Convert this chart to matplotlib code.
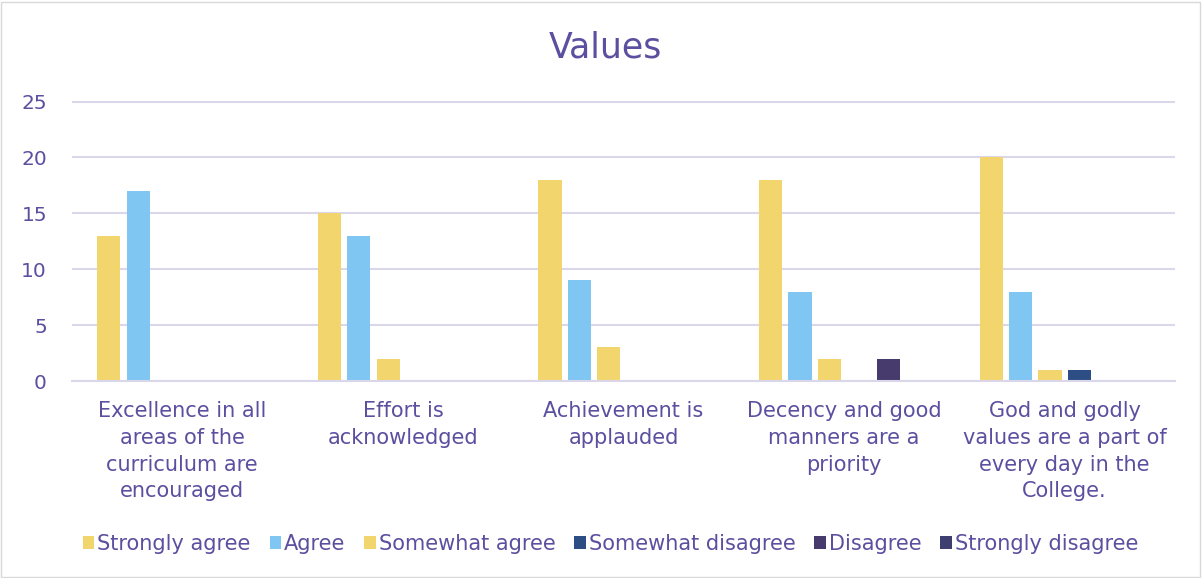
import numpy as np
import matplotlib.pyplot as plt
from matplotlib.patches import Rectangle

categories = [
    "Excellence in all\nareas of the\ncurriculum are\nencouraged",
    "Effort is\nacknowledged",
    "Achievement is\napplauded",
    "Decency and good\nmanners are a\npriority",
    "God and godly\nvalues are a part of\nevery day in the\nCollege.",
]
series_names = ["Strongly agree", "Agree", "Somewhat agree",
                "Somewhat disagree", "Disagree", "Strongly disagree"]
strongly_agree = [13, 15, 18, 18, 20]
agree = [17, 13, 9, 8, 8]
somewhat_agree = [0, 2, 3, 2, 1]
somewhat_disagree = [0, 0, 0, 0, 1]
disagree = [0, 0, 0, 2, 0]
strongly_disagree = [0, 0, 0, 0, 0]
yticks = [0, 5, 10, 15, 20, 25]

colors = ["#F2D56D", "#80C6F2", "#F2D56D", "#2D4D85", "#473A6C", "#3E3E70"]
text_color = "#5B4FA0"
grid_color = "#DAD7EA"

all_series = [strongly_agree, agree, somewhat_agree,
              somewhat_disagree, disagree, strongly_disagree]

fig = plt.figure(figsize=(12.02, 5.78), dpi=100)
ax = fig.add_axes([0.0599, 0.3408, 0.9176, 0.4845])

x = np.arange(len(categories))
slot = 0.8 / len(all_series)
for i, (name, vals) in enumerate(zip(series_names, all_series)):
    pos = x - 0.4 + slot * (i + 0.5)
    ax.bar(pos, vals, width=slot * 0.79, color=colors[i], label=name, zorder=3)

ax.set_xlim(-0.5, len(categories) - 0.5)
ax.set_ylim(0, 25.05)
ax.set_yticks(yticks)
ax.set_yticklabels([str(t) for t in yticks], fontsize=14.5, color=text_color)
ax.tick_params(axis="y", length=0, pad=18)
ax.set_xticks(x)
ax.set_xticklabels(categories, fontsize=15, color=text_color, linespacing=1.42, va="top")
ax.tick_params(axis="x", length=0, pad=14.5)
ax.grid(axis="y", color=grid_color, linewidth=1.5, zorder=0)
for s in ["top", "right", "left"]:
    ax.spines[s].set_visible(False)
ax.spines["bottom"].set_color(grid_color)
ax.spines["bottom"].set_linewidth(1.5)
ax.spines["bottom"].set_zorder(4)

fig.text(0.504, 0.918, "Values", fontsize=25, color=text_color, ha="center", va="center")

fig.legend(loc="center", bbox_to_anchor=(0.508, 0.059), ncol=6, frameon=False,
           fontsize=15, labelcolor=text_color, handlelength=0.55, handleheight=0.6,
           handletextpad=0.15, columnspacing=0.9)

fig.patches.append(Rectangle((0.001, 0.002), 0.997, 0.995, transform=fig.transFigure,
                             fill=False, edgecolor="#D9D9D9", linewidth=1))

fig.savefig("out.png", dpi=100)
